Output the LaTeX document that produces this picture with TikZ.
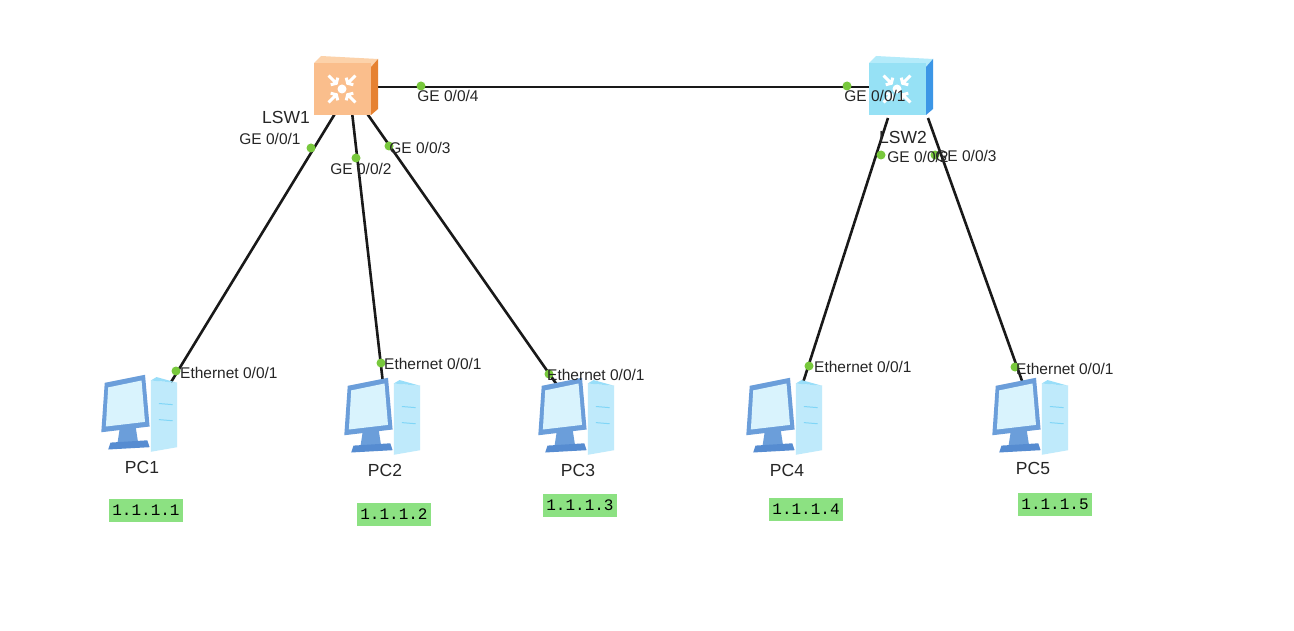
\documentclass[tikz,border=0pt]{standalone}
\usepackage{fontspec}
\setmainfont{Liberation Sans}
\newfontfamily\ipfont{Liberation Mono}
\definecolor{oF}{RGB}{250,190,140}
\definecolor{oT}{RGB}{252,210,170}
\definecolor{oS}{RGB}{230,130,50}
\definecolor{bF}{RGB}{150,225,245}
\definecolor{bT}{RGB}{180,235,250}
\definecolor{bS}{RGB}{60,150,230}
\definecolor{portg}{RGB}{120,200,60}
\definecolor{ipg}{RGB}{140,225,130}
\begin{document}
\begin{tikzpicture}[x=1pt,y=-1pt,
  link/.style={line width=2.6pt,black!90},
  port/.style={circle,fill=portg,inner sep=0pt,minimum size=9pt},
  lbl/.style={font=\fontsize{15.5}{18}\selectfont,text=black!85,inner sep=0pt},
  big/.style={font=\fontsize{17.5}{20}\selectfont},
  ip/.style={fill=ipg,font=\ipfont\fontsize{16}{18}\selectfont,inner sep=3pt,minimum height=23pt},
  sw/.style={minimum width=58pt,minimum height=58pt,inner sep=0pt},
  pc/.style={minimum width=80pt,minimum height=80pt,inner sep=0pt},
  pics/switch/.style n args={3}{code={
    \fill[#2] (-31,-22) -- (-24,-29) -- (33,-26) -- (26,-18) -- cycle;
    \fill[#3] (26,-18) -- (33,-26) -- (33,24) -- (26,30) -- cycle;
    \fill[#1] (-31,-22) rectangle (26,30);
    \foreach \a in {45,135,225,315}{
      \draw[white,line width=3pt,shift={(-3,4)},rotate=\a] (8,0) -- (19,0) (11,-5) -- (8,0) -- (11,5);}
    \fill[white] (-3,4) circle (4.5);
  }},
  pics/computer/.style={code={
    \begin{scope}[scale=1.15]
    \fill[cyan!25] (5,-30) -- (28,-28) -- (28,28) -- (5,32) -- cycle;
    \fill[cyan!40] (5,-30) -- (10,-33) -- (28,-28) -- cycle;
    \draw[cyan!50,line width=1pt] (12,-10) -- (24,-9) (12,4) -- (24,5);
    \fill[cyan!55!blue!60] (-35,-28) -- (0,-35) -- (4,10) -- (-38,15) -- cycle;
    \fill[cyan!15] (-32,-24) -- (-3,-30) -- (0,6) -- (-34,10) -- cycle;
    \fill[cyan!55!blue!60] (-22,12) -- (-8,11) -- (-6,24) -- (-24,25) -- cycle;
    \fill[cyan!50!blue!70] (-30,24) -- (2,22) -- (4,28) -- (-32,30) -- cycle;
    \end{scope}
  }}]
\useasboundingbox (0,0) rectangle (1294,631);
\fill[white] (0,0) rectangle (1294,631);
\node[sw] (sw1) at (345,85) {};
\node[sw] (sw2) at (900,85) {};
\node[pc] (pc1) at (145,415) {};
\node[pc] (pc2) at (388,418) {};
\node[pc] (pc3) at (582,418) {};
\node[pc] (pc4) at (790,418) {};
\node[pc] (pc5) at (1036,418) {};
\coordinate (s1a) at (336,112); \coordinate (p1) at (165,392);
\coordinate (s1b) at (352,112); \coordinate (p2) at (384,392);
\coordinate (s1c) at (366,112); \coordinate (p3) at (562,392);
\coordinate (s1d) at (370,87);  \coordinate (s2a) at (875,87);
\coordinate (s2b) at (888,118); \coordinate (p4) at (800,392);
\coordinate (s2c) at (928,118); \coordinate (p5) at (1026,392);
\draw[link] (s1a) -- (p1);
\draw[link] (s1b) -- (p2);
\draw[link] (s1c) -- (p3);
\draw[link] (s1d) -- (s2a);
\draw[link] (s2b) -- (p4);
\draw[link] (s2c) -- (p5);
\pic at (sw1) {switch={oF}{oT}{oS}};
\pic at (sw2) {switch={bF}{bT}{bS}};
\foreach \p in {pc1,pc2,pc3,pc4,pc5} \pic at (\p) {computer};
\node[port] (d1) at (311,148) {}; \node[port] (e1) at (176,371) {};
\node[port] (d2) at (356,158) {}; \node[port] (e2) at (381,363) {};
\node[port] (d3) at (389,146) {}; \node[port] (e3) at (549,374) {};
\node[port] (d4) at (421,86) {};  \node[port] (d5) at (847,86) {};
\node[port] (d6) at (881,155) {}; \node[port] (e4) at (809,366) {};
\node[port] (d7) at (935,155) {}; \node[port] (e5) at (1015,367) {};
\node[lbl,big] at (286,117) {LSW1};
\node[lbl,big] at (903,137) {LSW2};
\node[lbl] at (270,139) {GE 0/0/1};
\node[lbl] at (361,169) {GE 0/0/2};
\node[lbl] at (420,148) {GE 0/0/3};
\node[lbl] at (448,96) {GE 0/0/4};
\node[lbl] at (875,96) {GE 0/0/1};
\node[lbl] at (918,157) {GE 0/0/2};
\node[lbl] at (966,156) {GE 0/0/3};
\node[lbl,anchor=west] at (180,373) {Ethernet 0/0/1};
\node[lbl,anchor=west] at (384,364) {Ethernet 0/0/1};
\node[lbl,anchor=west] at (547,375) {Ethernet 0/0/1};
\node[lbl,anchor=west] at (814,367) {Ethernet 0/0/1};
\node[lbl,anchor=west] at (1016,369) {Ethernet 0/0/1};
\node[lbl,big] at (142,467) {PC1};
\node[lbl,big] at (385,470) {PC2};
\node[lbl,big] at (578,470) {PC3};
\node[lbl,big] at (787,470) {PC4};
\node[lbl,big] at (1033,468) {PC5};
\node[ip] at (146,510) {1.1.1.1};
\node[ip] at (394,514) {1.1.1.2};
\node[ip] at (580,505) {1.1.1.3};
\node[ip] at (806,509) {1.1.1.4};
\node[ip] at (1055,504) {1.1.1.5};
\end{tikzpicture}
\end{document}
